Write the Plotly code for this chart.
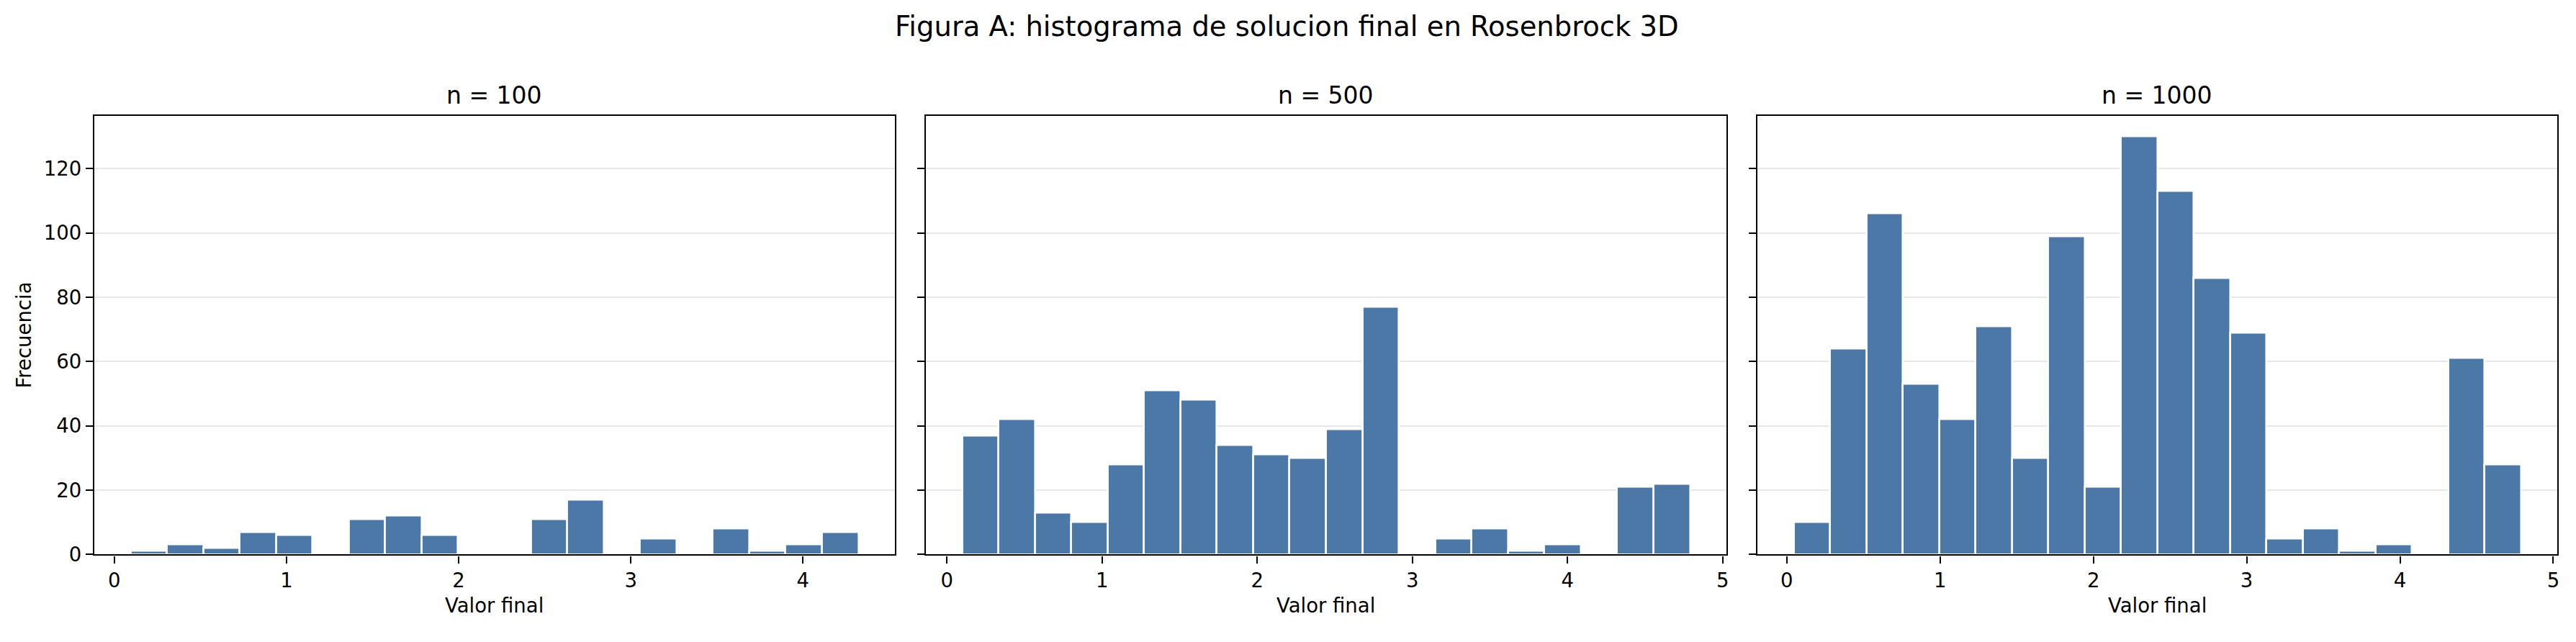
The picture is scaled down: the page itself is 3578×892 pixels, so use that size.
import numpy as np
import plotly.graph_objects as go

# histogramas de valor final, Rosenbrock 3D (n = 100, 500, 1000)

titulos = ['n = 100', 'n = 500', 'n = 1000']

# inicio y ancho de bin (20 bins cada uno)
bin_inicio = [0.0945, 0.098, 0.045]
bin_ancho = [0.2114, 0.2346, 0.2372]

cuentas_100 = [1, 3, 2, 7, 6, 0, 11, 12, 6, 0, 0, 11, 17, 0, 5, 0, 8, 1, 3, 7]
cuentas_500 = [37, 42, 13, 10, 28, 51, 48, 34, 31, 30, 39, 77, 0, 5, 8, 1, 3, 0, 21, 22]
cuentas_1000 = [10, 64, 106, 53, 42, 71, 30, 99, 21, 130, 113, 86, 69, 5, 8, 1, 3, 0, 61, 28]
cuentas = [cuentas_100, cuentas_500, cuentas_1000]

W, H = 3578, 892
fuente = 'DejaVu Sans'
color_barra = '#4c78a8'
color_grid = 'rgba(176,176,176,0.3)'

# posiciones de los paneles en pixeles (izq, der), arriba/abajo
paneles_x = [(131, 1244), (1287, 2400), (2443, 3555)]
arriba, abajo = 163.5, 784.5

fig = go.Figure()
anots = []

for i in range(3):
    n = len(cuentas[i])
    bordes = bin_inicio[i] + bin_ancho[i] * np.arange(n + 1)
    centros = (bordes[:-1] + bordes[1:]) / 2
    xa = 'x' if i == 0 else 'x%d' % (i + 1)
    ya = 'y' if i == 0 else 'y%d' % (i + 1)
    fig.add_trace(go.Bar(
        x=centros, y=cuentas[i], width=bin_ancho[i],
        marker=dict(color=color_barra, line=dict(color='white', width=2.5)),
        xaxis=xa, yaxis=ya, showlegend=False,
    ))

    lo, hi = bordes[0], bordes[-1]
    m = 0.05 * (hi - lo)
    dom = [paneles_x[i][0] / W, paneles_x[i][1] / W]
    ejex = dict(
        domain=dom, range=[lo - m, hi + m], anchor=ya,
        tickmode='array', tickvals=[0, 1, 2, 3, 4, 5],
        ticks='outside', ticklen=10, tickwidth=2.2, tickcolor='black',
        showline=True, linecolor='black', linewidth=2.2, mirror=True,
        showgrid=False, zeroline=False,
        tickfont=dict(family=fuente, size=27.5, color='black'),
    )
    ejey = dict(
        domain=[1 - abajo / H, 1 - arriba / H], range=[0, 136.5], anchor=xa,
        tickmode='array', tickvals=[0, 20, 40, 60, 80, 100, 120],
        showticklabels=(i == 0),
        ticks='outside', ticklen=10, tickwidth=2.2, tickcolor='black',
        showline=True, linecolor='black', linewidth=2.2, mirror=True,
        showgrid=True, gridcolor=color_grid, gridwidth=2,
        zeroline=False, layer='above traces',
        tickfont=dict(family=fuente, size=27.5, color='black'),
    )
    sx = 'xaxis' if i == 0 else 'xaxis%d' % (i + 1)
    sy = 'yaxis' if i == 0 else 'yaxis%d' % (i + 1)
    fig.update_layout({sx: ejex, sy: ejey})

    centro = (dom[0] + dom[1]) / 2
    anots.append(dict(text=titulos[i], x=centro, y=1 - 135 / H, xref='paper', yref='paper',
                      xanchor='center', yanchor='middle', showarrow=False,
                      font=dict(family=fuente, size=33, color='black')))
    anots.append(dict(text='Valor final', x=centro, y=1 - 856 / H, xref='paper', yref='paper',
                      xanchor='center', yanchor='middle', showarrow=False,
                      font=dict(family=fuente, size=27.5, color='black')))

anots.append(dict(text='Frecuencia', x=34 / W, y=1 - 474 / H, xref='paper', yref='paper',
                  xanchor='center', yanchor='middle', showarrow=False, textangle=-90,
                  font=dict(family=fuente, size=27.5, color='black')))
anots.append(dict(text='Figura A: histograma de solucion final en Rosenbrock 3D',
                  x=0.5, y=1 - 37 / H, xref='paper', yref='paper',
                  xanchor='center', yanchor='middle', showarrow=False,
                  font=dict(family=fuente, size=38.5, color='black')))

fig.update_layout(
    width=W, height=H,
    margin=dict(l=0, r=0, t=0, b=0),
    paper_bgcolor='white', plot_bgcolor='white',
    bargap=0, annotations=anots,
)

# sin margen ni barras de scroll para que la figura ocupe la ventana exacta
fig.write_html('out.html', config={'displayModeBar': False},
               post_script="document.body.style.margin='0';"
                           "document.body.style.overflow='hidden';")
